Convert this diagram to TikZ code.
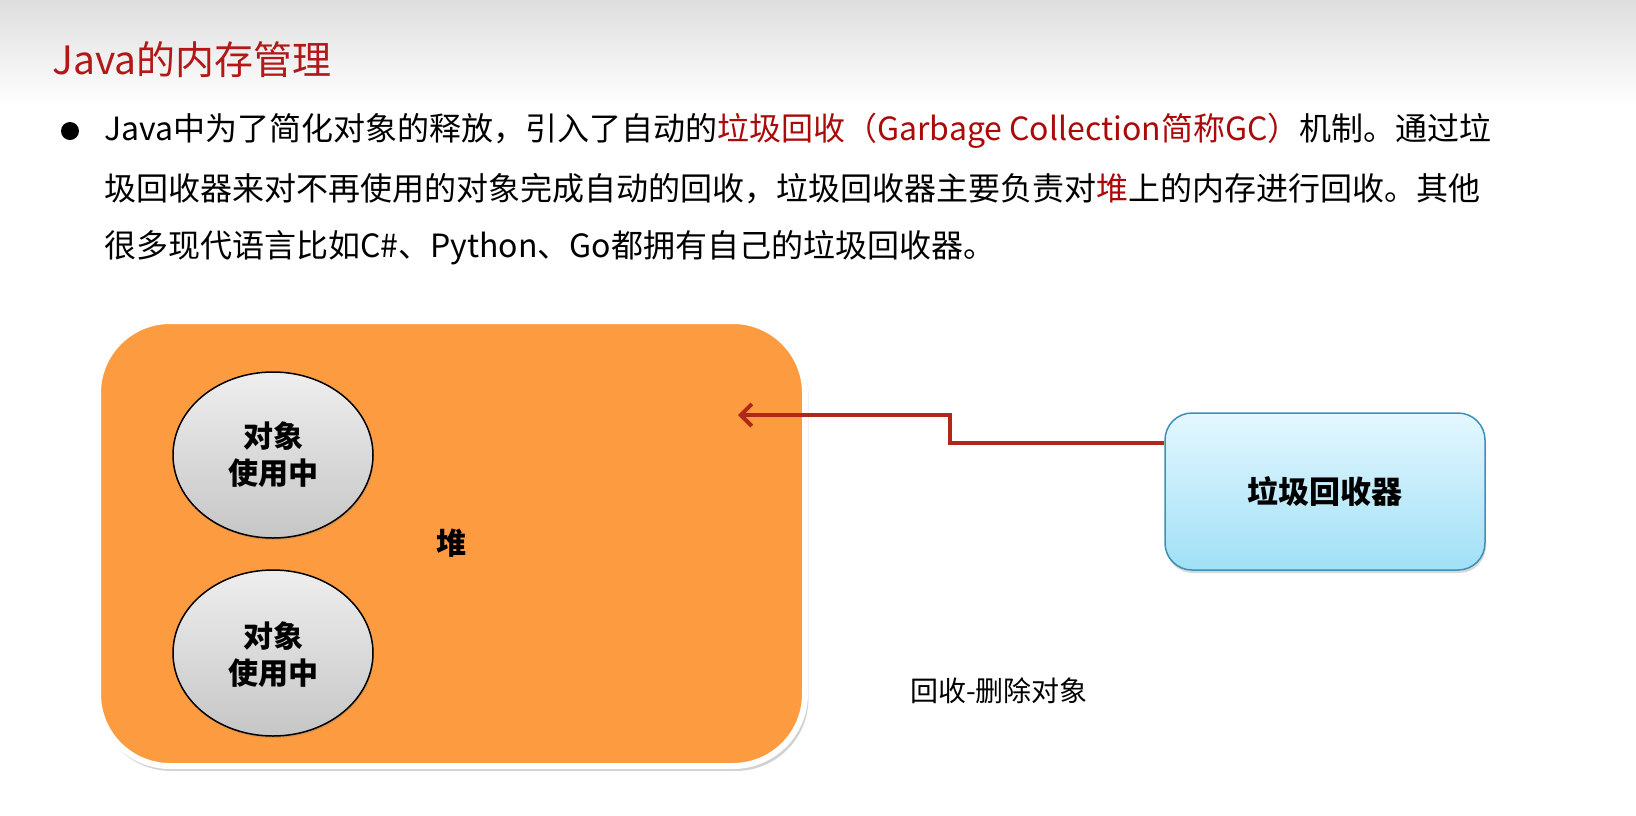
\documentclass[tikz,border=0pt]{standalone}
\usepackage{fontspec}
\setmainfont{Noto Sans CJK SC}
\usetikzlibrary{shapes.geometric,arrows.meta,shadows}
\definecolor{titlered}{RGB}{178,24,24}
\definecolor{hl}{RGB}{170,10,10}
\definecolor{heaporange}{RGB}{253,155,64}
\definecolor{arrred}{RGB}{176,40,26}
\definecolor{gcborder}{RGB}{60,145,180}
\definecolor{gctop}{RGB}{228,247,254}
\definecolor{gcbot}{RGB}{160,224,246}
\definecolor{objtop}{RGB}{238,238,238}
\definecolor{objbot}{RGB}{198,198,198}
\tikzset{
  heapbox/.style={draw=white, line width=6pt, fill=heaporange, rounded corners=72pt,
    minimum width=707pt, minimum height=445pt, inner sep=0pt,
    drop shadow={opacity=0.35, shadow xshift=2pt, shadow yshift=-4pt, shadow scale=1.004},
    font=\fontsize{30}{30}\selectfont\bfseries},
  objshape/.style={draw=black, line width=1.5pt, top color=objtop, bottom color=objbot,
    drop shadow={opacity=0.3, shadow xshift=1pt, shadow yshift=-2pt}},
  objtext/.style={inner sep=0pt, align=center, font=\fontsize{30}{37}\selectfont\bfseries},
  gcbox/.style={draw=gcborder, line width=1.5pt, rounded corners=27pt, top color=gctop, bottom color=gcbot,
    minimum width=320pt, minimum height=157pt, inner sep=0pt,
    drop shadow={opacity=0.3, shadow xshift=1pt, shadow yshift=-3pt},
    font=\fontsize{31}{31}\selectfont\bfseries},
  bodytext/.style={anchor=west, inner sep=0pt, font=\fontsize{32}{32}\selectfont},
  arr/.style={draw=arrred, line width=4pt, -{Straight Barb[length=11pt, width=22pt, line width=4pt]}},
}
\begin{document}
\begin{tikzpicture}[x=1pt, y=-1pt]
\useasboundingbox (0,0) rectangle (1636,815);
\fill[white] (0,0) rectangle (1636,815);
\shade[top color=black!13, bottom color=white] (0,0) rectangle (1636,105);

\node[anchor=west, inner sep=0pt, text=titlered, font=\fontsize{39}{39}\selectfont] (title) at (52,60) {Java的内存管理};

\fill (70,131) circle (9pt);
\node[bodytext] (l1) at (104,131) {Java中为了简化对象的释放，引入了自动的\textcolor{hl}{垃圾回收（Garbage Collection简称GC）}机制。通过垃};
\node[bodytext] (l2) at (104,189) {圾回收器来对不再使用的对象完成自动的回收，垃圾回收器主要负责对\textcolor{hl}{堆}上的内存进行回收。其他};
\node[bodytext] (l3) at (104,248) {很多现代语言比如C\#、Python、Go都拥有自己的垃圾回收器。};

\node[heapbox] (heap) at (451.5,543.5) {堆};
\path[objshape] (273,455) ellipse [x radius=100, y radius=83];
\node[objtext] (o1) at (273,455) {对象\\使用中};
\path[objshape] (273,653) ellipse [x radius=100, y radius=83];
\node[objtext] (o2) at (273,655) {对象\\使用中};

\node[gcbox] (gc) at (1325,491.5) {垃圾回收器};

\coordinate (tip) at (738,415);
\coordinate (jy) at (0,443);
\coordinate (bend) at (950,443);
\draw[arr] (gc.west |- jy) -- (bend) |- (tip);

\node[inner sep=0pt, font=\fontsize{28}{28}\selectfont] (lbl) at (999,691) {回收-删除对象};
\end{tikzpicture}
\end{document}
